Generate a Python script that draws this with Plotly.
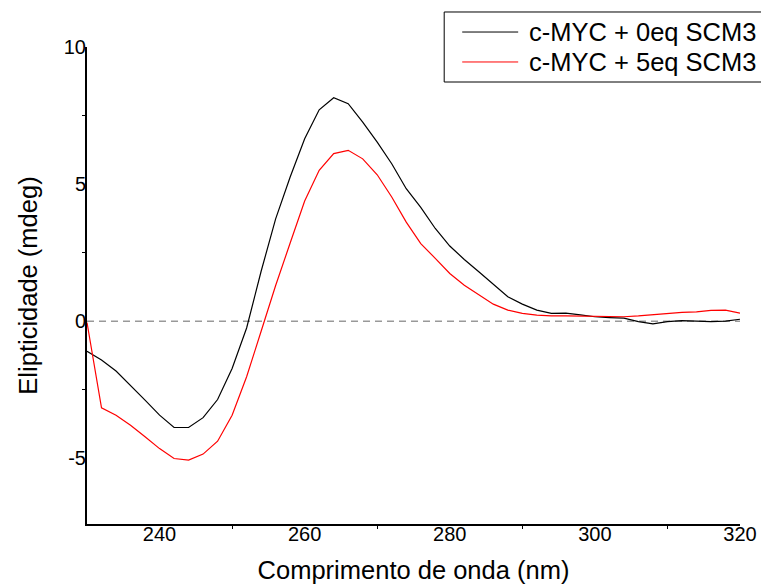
import plotly.graph_objects as go

# Wavelength (nm)
wavelength = list(range(230, 322, 2))

series_names = ["c-MYC + 0eq SCM3", "c-MYC + 5eq SCM3"]

ellip_0eq = [-1.10, -1.42, -1.82, -2.34, -2.88, -3.43, -3.88, -3.88, -3.52, -2.86,
             -1.73, -0.25, 1.82, 3.73, 5.26, 6.65, 7.71, 8.15, 7.93, 7.26,
             6.53, 5.74, 4.83, 4.15, 3.38, 2.74, 2.25, 1.80, 1.35, 0.89,
             0.62, 0.40, 0.28, 0.29, 0.23, 0.16, 0.13, 0.11, -0.02, -0.10,
             -0.02, 0.02, 0.00, -0.02, 0.00, 0.07]

ellip_5eq = [-0.05, -3.16, -3.43, -3.80, -4.22, -4.65, -5.01, -5.07, -4.85, -4.38,
             -3.43, -2.03, -0.37, 1.30, 2.85, 4.38, 5.50, 6.11, 6.23, 5.92,
             5.34, 4.53, 3.61, 2.83, 2.29, 1.74, 1.31, 0.95, 0.62, 0.40,
             0.28, 0.22, 0.19, 0.19, 0.18, 0.17, 0.15, 0.16, 0.19, 0.23,
             0.29, 0.32, 0.34, 0.39, 0.40, 0.29]

x_ticks = [240, 260, 280, 300, 320]
y_ticks = [-5, 0, 5, 10]
y_ticklabels = ["-5", "0", "5", "10"]

colors = ["#000000", "#ff0000"]
FONT = "Liberation Sans, Arial, sans-serif"

fig = go.Figure()
for name, vals, col in zip(series_names, [ellip_0eq, ellip_5eq], colors):
    fig.add_trace(go.Scatter(x=wavelength, y=vals, mode="lines", name=name,
                             line=dict(color=col, width=1.2), showlegend=False))

# zero reference line
fig.add_shape(type="line", xref="paper", x0=0, x1=1, yref="y", y0=0, y1=0,
              line=dict(color="#999999", width=1.5, dash="7px,5px"), layer="below")

# custom legend box
fig.add_shape(type="rect", xref="paper", yref="paper", x0=0.547, x1=1.05,
              y0=0.9266, y1=1.0734, line=dict(color="#000000", width=1),
              fillcolor="white")
for i, (name, col) in enumerate(zip(series_names, colors)):
    yy = 1.0314 - i * 0.0628
    fig.add_shape(type="line", xref="paper", yref="paper", x0=0.5746, x1=0.6603,
                  y0=yy, y1=yy, line=dict(color=col, width=1))
    fig.add_annotation(xref="paper", yref="paper", x=0.6741, y=yy, text=name,
                       showarrow=False, xanchor="left", yanchor="middle",
                       font=dict(family=FONT, size=25.5, color="black"))

fig.update_layout(
    width=761, height=584, autosize=False,
    margin=dict(l=87, r=21, t=47, b=60, pad=0),
    paper_bgcolor="white", plot_bgcolor="white",
    font=dict(family=FONT, color="black"),
    showlegend=False,
)
fig.update_xaxes(
    range=[230, 320], tickvals=x_ticks,
    showgrid=False, zeroline=False, showline=True, linecolor="black", linewidth=2,
    ticks="", tickfont=dict(size=20, family=FONT), ticklabelstandoff=-9,
    minor=dict(tickvals=[250, 270, 290, 310], ticks="outside", ticklen=3,
               tickcolor="black", showgrid=False),
    title=dict(text="Comprimento de onda (nm)", font=dict(size=25.5, family=FONT),
               standoff=17),
    automargin=False,
)
fig.update_yaxes(
    range=[-7.4, 10], tickvals=y_ticks, ticktext=y_ticklabels,
    showgrid=False, zeroline=False, showline=True, linecolor="black", linewidth=2,
    ticks="", tickfont=dict(size=20, family=FONT), ticklabelstandoff=-5,
    minor=dict(tickvals=[-2.5, 2.5, 7.5], ticks="outside", ticklen=3,
               tickcolor="black", showgrid=False),
    title=dict(text="Elipticidade (mdeg)", font=dict(size=25.5, family=FONT),
               standoff=19),
    automargin=False,
)

fig.write_html("out.html")
